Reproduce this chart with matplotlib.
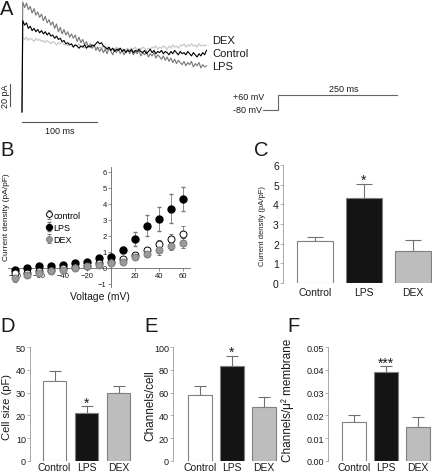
import matplotlib
matplotlib.use("Agg")
import matplotlib.pyplot as plt
import numpy as np

plt.rcParams['font.family'] = ['Liberation Sans', 'DejaVu Sans']

## data
lps_trace = [0, 100, 95, 99, 93, 96, 90, 94, 88, 91, 86, 89, 83, 87, 81, 84, 79, 82, 76, 80, 73,
             77, 71, 75, 70, 73, 68, 71, 67, 70, 64, 68, 63, 66, 61, 64, 59, 62, 58, 61, 56,
             59, 55, 58, 54, 57, 53, 58, 55, 52, 57, 54, 58, 53, 56, 52, 55, 57, 53, 56, 52,
             55, 53, 56, 51, 54, 52, 55, 50, 53, 51, 54, 49, 52, 50, 48, 51, 47, 50, 46, 49,
             45, 48, 44, 47, 45, 43, 46, 42, 45, 43, 46, 41, 44, 42, 45, 40, 43, 41, 42]
control_trace = [0, 83, 79, 81, 76, 78, 74, 76, 73, 75, 72, 74, 71, 73, 70, 72, 69, 70, 67, 69, 66,
                 67, 64, 65, 62, 63, 61, 62, 59, 61, 60, 58, 60, 59, 61, 58, 60, 59, 61, 60, 62,
                 64, 62, 63, 60, 59, 57, 59, 56, 58, 55, 57, 56, 58, 55, 57, 54, 56, 55, 57, 54,
                 56, 55, 57, 55, 54, 56, 53, 55, 57, 54, 56, 53, 55, 54, 56, 53, 55, 54, 52, 55,
                 53, 56, 54, 52, 55, 53, 54, 52, 55, 53, 51, 54, 52, 50, 53, 51, 54, 52, 56]
dex_trace = [0, 68, 66, 68, 65, 67, 66, 64, 67, 65, 66, 64, 65, 63, 65, 64, 62, 64, 63, 61, 63,
             62, 64, 61, 62, 60, 62, 61, 59, 61, 60, 62, 59, 60, 58, 61, 59, 60, 58, 60, 59,
             57, 59, 58, 60, 57, 59, 58, 56, 58, 57, 59, 56, 58, 57, 55, 57, 58, 56, 58, 57,
             59, 56, 58, 57, 59, 58, 56, 58, 57, 59, 58, 60, 57, 59, 58, 60, 59, 57, 60, 58,
             61, 59, 60, 58, 61, 60, 62, 59, 61, 60, 62, 60, 61, 59, 62, 60, 61, 60, 61]
prot_t = [-31, 0, 0, 250]
prot_v = [-80, -80, 60, 60]

# B: I-V curves
voltage = [-80, -70, -60, -50, -40, -30, -20, -10, 0, 10, 20, 30, 40, 50, 60]
iv_control = [-0.3, -0.3, -0.2, -0.1, 0.0, 0.05, 0.1, 0.3, 0.4, 0.55, 0.8, 1.1, 1.5, 1.8, 2.15]
iv_control_err = [0.25, 0.15, 0.1, 0.1, 0.1, 0.1, 0.1, 0.1, 0.1, 0.1, 0.15, 0.2, 0.25, 0.3, 0.5]
iv_lps = [-0.1, 0.0, 0.1, 0.15, 0.2, 0.3, 0.4, 0.6, 0.7, 1.15, 1.8, 2.65, 3.05, 3.7, 4.3]
iv_lps_err = [0.15, 0.1, 0.1, 0.1, 0.1, 0.1, 0.1, 0.12, 0.15, 0.15, 0.45, 0.65, 0.75, 0.9, 0.75]
iv_dex = [-0.6, -0.45, -0.3, -0.2, -0.1, 0.0, 0.1, 0.2, 0.3, 0.4, 0.7, 0.9, 1.1, 1.35, 1.55]
iv_dex_err = [0.25, 0.2, 0.15, 0.1, 0.1, 0.1, 0.1, 0.1, 0.1, 0.1, 0.15, 0.2, 0.3, 0.25, 0.3]

# C-F: bar summaries
groups = ['Control', 'LPS', 'DEX']
density = [2.15, 4.3, 1.62]
density_err = [0.2, 0.75, 0.58]
cell_size = [35, 21, 30]
cell_size_err = [4.5, 3, 3]
channels = [58, 83, 47]
channels_err = [8, 9, 9]
channels_area = [0.017, 0.039, 0.015]
channels_area_err = [0.003, 0.0025, 0.0045]

W, H = 432, 477
fig = plt.figure(figsize=(W/100, H/100), dpi=100)
txt = '#1a1a1a'
edge = '#808080'


def px_axes(x0, y0, x1, y1):
    return fig.add_axes([x0/W, 1-y1/H, (x1-x0)/W, (y1-y0)/H])


def fig_text(x, y, s, **kw):
    fig.text(x/W, 1-y/H, s, color=txt, **kw)


def sample_times(trace):
    # first sample is the holding level at t=0, then one every 2.5 ms from t=1
    return [0] + list(1 + 2.5*np.arange(len(trace)-1))


# panel letters
for x, y, s in [(0, 0, 'A'), (0, 141, 'B'), (254, 141, 'C'), (0, 317, 'D'), (144, 317, 'E'), (287, 317, 'F')]:
    fig_text(x, y, s, fontsize=14.5, va='top', ha='left')

## A
axA = px_axes(0, 0, 215, 130)
axA.set_xlim((0-22)/0.75, (215-22)/0.75)
axA.set_ylim((113-130)/1.1, 113/1.1)
axA.axis('off')
axA.plot(sample_times(dex_trace), dex_trace, color='#c4c4c4', lw=0.8)
axA.plot(sample_times(lps_trace), lps_trace, color='#777777', lw=0.8)
axA.plot(sample_times(control_trace), control_trace, color='#000000', lw=0.8)
axA.plot([-16, -16], [5.5, 25.5], color='#555555', lw=0.8)
axA.plot([0, 100], [-9.1, -9.1], color='#555555', lw=0.8)
fig_text(5, 96, '20 pA', fontsize=6.5, rotation=90, ha='center', va='center')
fig_text(60, 132, '100 ms', fontsize=6.5, ha='center', va='center')
fig_text(212, 41, 'DEX', fontsize=8, ha='left', va='center')
fig_text(212, 54, 'Control', fontsize=8, ha='left', va='center')
fig_text(212, 67, 'LPS', fontsize=8, ha='left', va='center')

# voltage protocol
axP = px_axes(225, 80, 432, 125)
axP.set_xlim((225-278)/0.476, (432-278)/0.476)
axP.set_ylim(-80-(125-111)/0.107, -80+(111-80)/0.107)
axP.axis('off')
axP.plot(prot_t, prot_v, color='#666666', lw=0.8)
fig_text(264, 97, '+60 mV', fontsize=6.5, ha='right', va='center')
fig_text(262, 111, '-80 mV', fontsize=6.5, ha='right', va='center')
fig_text(344, 89, '250 ms', fontsize=6.5, ha='center', va='center')

## B
axB = px_axes(8, 168, 190, 288)
axB.set_xlim((8-111)/1.2, (190-111)/1.2)
axB.set_ylim((269-288)/16, (269-168)/16)
for s in ['top', 'right']:
    axB.spines[s].set_visible(False)
axB.spines['left'].set_position(('data', 0))
axB.spines['bottom'].set_position(('data', 0))
for s in ['left', 'bottom']:
    axB.spines[s].set_color('#666666')
    axB.spines[s].set_linewidth(0.6)
axB.set_xticks([-80, -60, -40, -20, 20, 40, 60])
axB.set_yticks([-1, 0, 1, 2, 3, 4, 5, 6])
axB.tick_params(labelsize=5.5, length=2, width=0.5, colors='#666666', labelcolor=txt, pad=1)
kw = dict(ls='none', marker='o', markersize=5, capsize=1.5, elinewidth=0.6, ecolor='#777777',
          clip_on=False, zorder=4)
h1 = axB.errorbar(voltage, iv_lps, yerr=iv_lps_err, mfc='black', mec='black', **kw)
h0 = axB.errorbar(voltage, iv_control, yerr=iv_control_err, mfc='white', mec='black', mew=0.7, **kw)
h2 = axB.errorbar(voltage, iv_dex, yerr=iv_dex_err, mfc='#9a9a9a', mec='#7a7a7a', mew=0.7, **kw)
axB.legend([h0, h1, h2], ['control', 'LPS', 'DEX'], loc='upper left', frameon=False,
           bbox_to_anchor=(41/W, 1-207/H), bbox_transform=fig.transFigure, fontsize=6.5,
           borderpad=0, handlelength=0.7, handletextpad=0.2, labelspacing=0.35, markerscale=0.85)
fig_text(100, 297, 'Voltage (mV)', fontsize=7.5, ha='center', va='center')
fig_text(7, 217, 'Current density (pA/pF)', fontsize=6, rotation=90, ha='center', va='center')


## bar panels
def bar_panel(box, centre0, spacing, vals, errs, ylim, yticks, ylabel, ylab_x, ylab_y, star,
              capsize, tick_fs, lab_fs, ylab_fs, tick_y):
    x0, y0, x1, y1 = box
    ax = px_axes(x0, y0, x1, y1)
    ax.set_xlim((x0-centre0)/spacing, (x1-centre0)/spacing)
    ax.set_ylim(*ylim)
    pos = np.arange(len(groups))
    ax.bar(pos, vals, width=0.74, color=['white', '#141414', '#bdbdbd'], edgecolor=edge,
           linewidth=0.8, zorder=2)
    ax.errorbar(pos, vals, yerr=[[0]*len(vals), errs], ls='none', ecolor='#707070', elinewidth=0.8,
                capsize=capsize, capthick=0.8, zorder=1)
    for s in ['top', 'right', 'bottom']:
        ax.spines[s].set_visible(False)
    ax.spines['left'].set_color('#999999')
    ax.spines['left'].set_linewidth(0.6)
    ax.set_yticks(yticks)
    ax.tick_params(axis='y', labelsize=tick_fs, length=2, width=0.5, colors='#999999',
                   labelcolor=txt, pad=1)
    ax.set_xticks([])
    for p, g in zip(pos, groups):
        fig_text(centre0 + p*spacing, tick_y, g, fontsize=lab_fs, ha='center', va='center')
    fig_text(ylab_x, ylab_y, ylabel, fontsize=ylab_fs, rotation=90, ha='center', va='center')
    top = vals[1] + errs[1]
    ax.text(1, top + 0.035*(ylim[1]-ylim[0]), star, fontsize=10, ha='center', va='center', color=txt)
    return ax


bar_panel((283, 166, 432, 284), 315, 49, density, density_err, (0, 6), range(0, 7),
          'Current density (pA/pF)', 262, 226, '*', 6, 7.5, 7.5, 5.5, 293)
bar_panel((30, 348, 135, 462), 54.5, 32, cell_size, cell_size_err, (0, 50), range(0, 51, 10),
          'Cell size (pF)', 7, 407, '*', 4, 6.5, 7.5, 8, 468)
bar_panel((173, 348, 280, 462), 200, 32, channels, channels_err, (0, 100), range(0, 101, 20),
          'Channels/cell', 150, 406, '*', 4, 6.5, 7.5, 8.5, 468)
bar_panel((328, 348, 432, 462), 354, 32, channels_area, channels_area_err, (0, 0.05),
          [0, 0.01, 0.02, 0.03, 0.04, 0.05], 'Channels/μ² membrane', 288, 400, '***', 4, 6.5, 7.5, 8.5, 468)

fig.savefig('out.png', dpi=100)
